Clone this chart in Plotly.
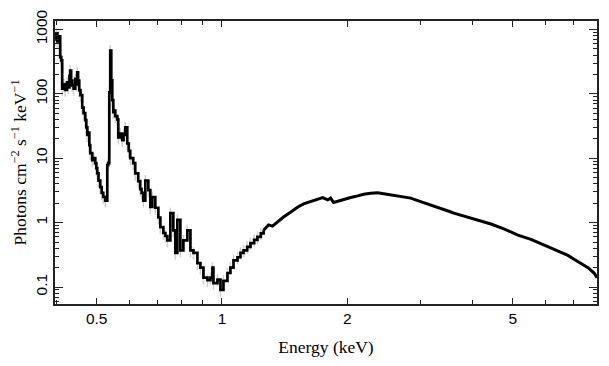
import plotly.graph_objects as go

# Energy (keV) and flux (photons cm^-2 s^-1 keV^-1)
energy = [
    0.397, 0.400, 0.402, 0.405, 0.4085, 0.411, 0.413, 0.417, 0.420, 0.424,
    0.427, 0.430, 0.4318, 0.434, 0.4366, 0.440, 0.4439, 0.4465, 0.4488, 0.451,
    0.4539, 0.457, 0.4615, 0.465, 0.4693, 0.472, 0.4745, 0.4771, 0.480, 0.4824,
    0.4878, 0.492, 0.4960, 0.4990, 0.5015, 0.505, 0.5099, 0.514, 0.5185, 0.5242,
    0.5301, 0.5330, 0.5360, 0.5389, 0.5420, 0.545, 0.5480, 0.551, 0.5541, 0.5603,
    0.5634, 0.5696, 0.5760, 0.580, 0.5856, 0.5921, 0.597, 0.6019, 0.6120, 0.6188,
    0.6292, 0.6362, 0.641, 0.6471, 0.6543, 0.6653, 0.6727, 0.6801, 0.6915, 0.7032,
    0.7110, 0.7231, 0.7311, 0.7393, 0.7516, 0.7642, 0.7727, 0.7813, 0.7944, 0.8077,
    0.8257, 0.8399, 0.8540, 0.8730, 0.8876, 0.9026, 0.9228, 0.9382, 0.9486, 0.9539,
    0.9754, 0.9917, 1.0083, 1.031, 1.048, 1.066, 1.090, 1.108, 1.127, 1.150,
    1.171, 1.195, 1.217, 1.240, 1.259, 1.294, 1.323, 1.360, 1.406, 1.462,
    1.519, 1.571, 1.633, 1.698, 1.746, 1.795, 1.825, 1.855, 1.897, 1.961,
    2.039, 2.120, 2.191, 2.278, 2.368, 2.448, 2.544, 2.646, 2.735, 2.843,
    2.955, 3.055, 3.176, 3.302, 3.414, 3.510, 3.609, 3.899, 4.123, 4.431,
    4.761, 5.145, 5.530, 5.943, 6.424, 6.788, 7.019, 7.295, 7.584, 7.842,
    7.974,
]
flux = [
    700, 850, 650, 780, 370, 330, 120, 140, 115, 150,
    126, 190, 230, 160, 135, 120, 170, 140, 215, 160,
    114, 95, 61, 50, 39, 30, 23, 25, 16, 12,
    9.3, 10, 8.4, 7.0, 5.8, 4.5, 3.55, 2.9, 2.5, 2.2,
    7.8, 8.4, 105, 470, 162, 80, 52, 55, 45, 40,
    21, 24, 19, 23, 30, 17, 13, 10, 8.4, 5.8,
    4.4, 3.3, 2.9, 2.2, 4.5, 3.2, 1.75, 2.5, 1.7, 1.2,
    0.85, 0.69, 0.62, 0.53, 1.4, 0.76, 0.34, 1.1, 0.37, 0.53,
    0.76, 0.37, 0.34, 0.235, 0.2, 0.14, 0.128, 0.14, 0.2, 0.115,
    0.13, 0.09, 0.125, 0.165, 0.2, 0.26, 0.29, 0.34, 0.37, 0.42,
    0.48, 0.54, 0.6, 0.68, 0.76, 0.92, 0.88, 1.02, 1.22, 1.45,
    1.73, 1.95, 2.1, 2.3, 2.45, 2.25, 2.4, 2.05, 2.15, 2.3,
    2.45, 2.6, 2.75, 2.85, 2.9, 2.8, 2.7, 2.6, 2.5, 2.4,
    2.2, 2.05, 1.9, 1.72, 1.6, 1.5, 1.4, 1.22, 1.08, 0.95,
    0.80, 0.64, 0.55, 0.45, 0.36, 0.31, 0.27, 0.235, 0.20, 0.165,
    0.14,
]
# relative 1-sigma uncertainty (light grey bars in the reference)
rel_err = [0.22 if e < 1.25 else 0.0 for e in energy]

x_major = [0.5, 1, 2, 5]
x_minor = [0.4, 0.6, 0.7, 0.8, 0.9, 3, 4, 6, 7]
y_major = [0.1, 1, 10, 100, 1000]
y_major_text = ["0.1", "1", "10", "100", "1000"]
y_minor = [m * d for d in [0.01, 0.1, 1, 10, 100, 1000] for m in range(2, 10)]

err = [f * r for f, r in zip(flux, rel_err)]
split = energy.index(1.259)

fig = go.Figure()
fig.add_trace(go.Scatter(
    x=energy, y=flux, mode="markers",
    marker=dict(size=1, opacity=0),
    error_y=dict(type="data", array=err, visible=True,
                 color="#d0d0d0", thickness=1.5, width=0),
    showlegend=False, hoverinfo="skip",
))
fig.add_trace(go.Scatter(
    x=energy[:split + 1], y=flux[:split + 1], mode="lines",
    line=dict(color="black", width=2.7, shape="hv"),
    showlegend=False,
))
fig.add_trace(go.Scatter(
    x=energy[split:], y=flux[split:], mode="lines",
    line=dict(color="black", width=3, shape="linear"),
    showlegend=False,
))

axis_common = dict(
    showgrid=False, zeroline=False, showline=True, linecolor="#222",
    linewidth=1.6, mirror="ticks", ticks="inside", tickcolor="#222",
    tickwidth=1.4, automargin=False,
    tickfont=dict(family="Liberation Sans, Arial", size=15.5, color="black"),
    title_font=dict(family="Liberation Serif, Times New Roman", size=17.5, color="black"),
)

fig.update_xaxes(
    type="log", range=[-0.4013, 0.9015],
    tickvals=x_major, ticktext=["0.5", "1", "2", "5"], ticklen=6,
    minor=dict(tickvals=x_minor, ticklen=4, ticks="inside", tickcolor="#222", tickwidth=1.4),
    title_text="Energy (keV)", title_standoff=14,
    **axis_common,
)
fig.update_yaxes(
    type="log", range=[-1.2636, 3.130],
    tickvals=y_major, ticktext=y_major_text, ticklen=8, tickangle=-90,
    minor=dict(tickvals=y_minor, ticklen=4, ticks="inside", tickcolor="#222", tickwidth=1.4),
    title_text="Photons cm<sup>−2</sup> s<sup>−1</sup> keV<sup>−1</sup>", title_standoff=6,
    **axis_common,
)

fig.update_layout(
    width=609, height=366,
    margin=dict(l=47, r=20, t=13, b=70),
    paper_bgcolor="white", plot_bgcolor="white",
)

fig.write_html("out.html")
